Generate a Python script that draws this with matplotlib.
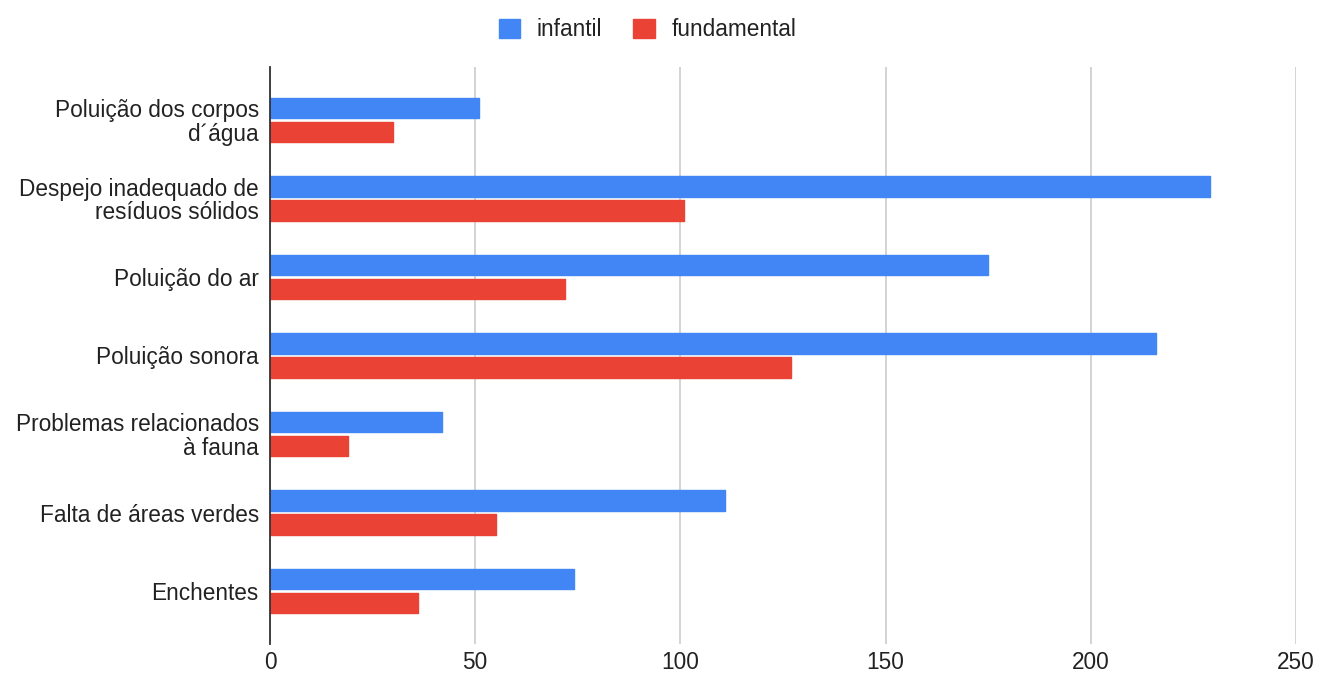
import numpy as np
import matplotlib.pyplot as plt
from matplotlib.patches import Patch

# data
categories = ["Poluição dos corpos\nd´água", "Despejo inadequado de\nresíduos sólidos",
              "Poluição do ar", "Poluição sonora", "Problemas relacionados\nà fauna",
              "Falta de áreas verdes", "Enchentes"]
infantil = [51, 229, 175, 216, 42, 111, 74]
fundamental = [30, 101, 72, 127, 19, 55, 36]
series_names = ["infantil", "fundamental"]
xticks = [0, 50, 100, 150, 200, 250]

c_blue = "#4285F4"
c_red = "#EA4335"
fs = 16.3

plt.rcParams['font.family'] = ['Liberation Sans', 'DejaVu Sans']

fig = plt.figure(figsize=(13.2, 6.79), dpi=100)
ax = fig.add_axes([0.2045, 0.052, 0.7773, 0.849])

y = np.arange(len(categories))
h = 0.26
ax.barh(y - 0.152, infantil, height=h, color=c_blue, edgecolor=c_blue, linewidth=1, joinstyle='round', zorder=3)
ax.barh(y + 0.152, fundamental, height=h, color=c_red, edgecolor=c_red, linewidth=1, joinstyle='round', zorder=3)

ax.set_xlim(0, 250)
ax.set_ylim(len(categories) - 0.33, -0.67)
ax.set_yticks(y)
ax.set_yticklabels(categories, fontsize=fs, color="#222222", ha='right', multialignment='right',
                   linespacing=1.03)
ax.set_xticks(xticks)
ax.set_xticklabels([str(t) for t in xticks], fontsize=fs, color="#222222")
ax.tick_params(axis='both', length=0)
ax.tick_params(axis='y', pad=8)
ax.tick_params(axis='x', pad=5)

ax.grid(axis='x', color="#cccccc", linewidth=1.2, zorder=0)
for s in ['top', 'right', 'bottom']:
    ax.spines[s].set_visible(False)
ax.spines['left'].set_color("#333333")
ax.spines['left'].set_linewidth(1.3)
ax.spines['left'].set_zorder(4)

handles = [Patch(facecolor=c_blue, edgecolor=c_blue), Patch(facecolor=c_red, edgecolor=c_red)]
fig.legend(handles, series_names, loc='upper center', bbox_to_anchor=(0.4905, 1.003), ncol=2,
           frameon=False, fontsize=fs, handlelength=0.95, handleheight=0.95, columnspacing=1.35,
           handletextpad=0.75, labelcolor="#222222")

fig.savefig("out.png", dpi=100)
